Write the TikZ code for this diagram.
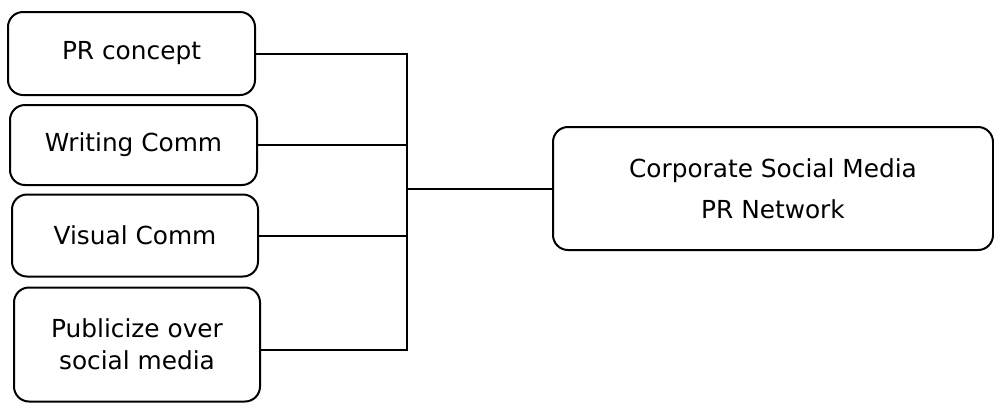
\documentclass[tikz,border=0pt]{standalone}
\usepackage{fontspec}
\setmainfont{DejaVu Sans}
\usepackage{tikz}

\begin{document}
\begin{tikzpicture}[x=0.5pt,y=-0.5pt,line width=1pt,
        topic/.style={draw,rounded corners=7.5pt,align=center,
            font=\fontsize{12.4}{16}\selectfont,inner sep=0pt},
        goal/.style={topic,font=\fontsize{12.4}{20.5}\selectfont}]
            \useasboundingbox (0,0) rectangle (994,403);

            \node [topic,minimum width=123.5pt,minimum height=41.5pt] (concept) at (131.5,53.5) {PR concept};
            \node [topic,minimum width=123.5pt,minimum height=40pt] (writing) at (133.5,145) {Writing Comm};
            \node [topic,minimum width=123pt,minimum height=41pt] (visual) at (135,235.5) {Visual Comm};
            \node [topic,minimum width=123pt,minimum height=57pt] (publicize) at (137,344.5) {Publicize over\\social media};

            \node [goal,minimum width=220pt,minimum height=61.5pt] (network) at (773,188.5) {Corporate Social Media\\PR Network};

            \coordinate (bus) at (407,190);
            \coordinate (pubend) at ([yshift=-2.5pt]publicize.east);
            \draw (concept.east) -- (concept.east -| bus) -- (pubend -| bus) -- (pubend);
            \foreach \n in {writing,visual} {
                \draw (\n.east) -- (\n.east -| bus);
            }
            \draw (network.west -| bus) -- (network.west);
        \end{tikzpicture}
\end{document}
